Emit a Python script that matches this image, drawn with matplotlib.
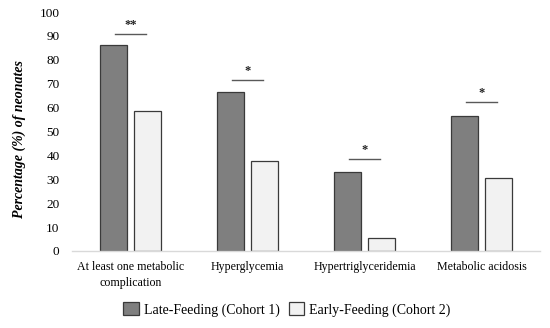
import matplotlib
matplotlib.use("Agg")
import matplotlib.pyplot as plt
import numpy as np

categories = ["At least one metabolic\ncomplication", "Hyperglycemia",
              "Hypertriglyceridemia", "Metabolic acidosis"]
late_feeding = [86.0, 66.5, 33.0, 56.5]
early_feeding = [58.5, 37.5, 5.5, 30.5]
sig_labels = ["**", "*", "*", "*"]
sig_heights = [91, 71.7, 38.5, 62.4]
series_names = ["Late-Feeding (Cohort 1)", "Early-Feeding (Cohort 2)"]
yticks = list(range(0, 101, 10))

plt.rcParams['font.family'] = ['Liberation Serif', 'DejaVu Serif']

fig = plt.figure(figsize=(5.5, 3.28), dpi=100)
ax = fig.add_axes([0.131, 0.2348, 0.851, 0.7286])

x = np.arange(len(categories))
w = 0.23
gap = 0.06
off = (w + gap) / 2
b1 = ax.bar(x - off, late_feeding, w, color="#7f7f7f", edgecolor="#3a3a3a", linewidth=0.9,
            label=series_names[0])
b2 = ax.bar(x + off, early_feeding, w, color="#f2f2f2", edgecolor="#3a3a3a", linewidth=0.9,
            label=series_names[1])

for xi, h, s in zip(x, sig_heights, sig_labels):
    ax.plot([xi - 0.135, xi + 0.135], [h, h], color="#595959", linewidth=1.0)
    ax.text(xi, h + 1.2, s, ha="center", va="bottom", fontsize=9, fontweight="bold", color="#222222")

ax.set_xlim(-0.5, len(categories) - 0.5)
ax.set_ylim(0, 100)
ax.set_yticks(yticks)
ax.set_xticks(x)
ax.set_xticklabels(categories, fontsize=8.6, linespacing=1.45)
ax.tick_params(axis='y', length=0, pad=9, labelsize=9.5)
ax.tick_params(axis='x', length=0, pad=7)
for sp in ["top", "right", "left"]:
    ax.spines[sp].set_visible(False)
ax.spines["bottom"].set_color("#d9d9d9")
ax.spines["bottom"].set_linewidth(1.0)

ax.set_ylabel("Percentage (%) of neonates", fontsize=10, fontweight="bold", fontstyle="italic",
              labelpad=9)
ax.yaxis.set_label_coords(-0.098, 0.469)

fig.legend(handles=[b1, b2], labels=series_names, loc="center", bbox_to_anchor=(0.522, 0.057),
           ncol=2, frameon=False, fontsize=10, handlelength=1.1, handleheight=1.1,
           handletextpad=0.4, columnspacing=0.6)

fig.savefig("out.png", dpi=100)
